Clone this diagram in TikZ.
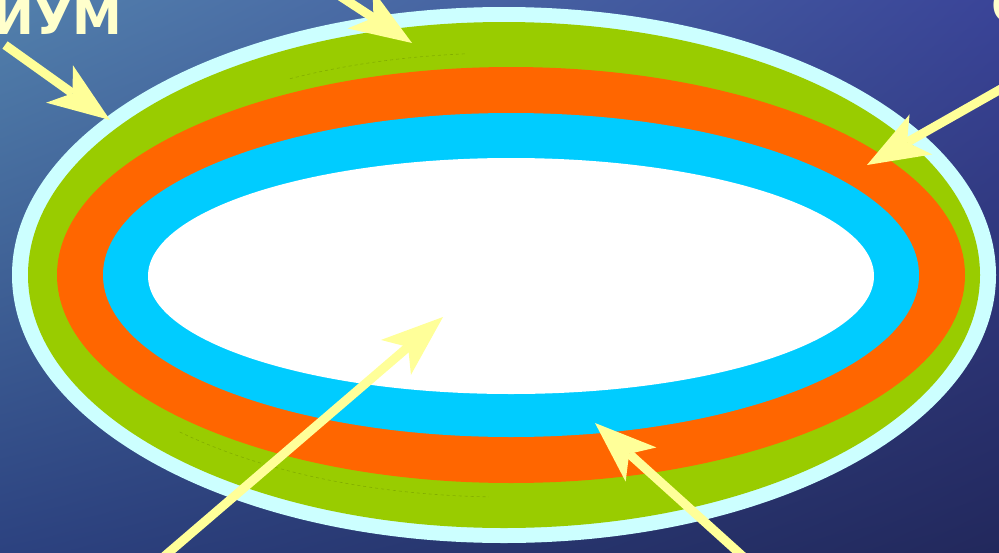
\documentclass[tikz,border=0pt]{standalone}
\usepackage{fontspec}
\newfontfamily\wordfont{DejaVu Sans}
\usetikzlibrary{arrows.meta,shadings}

\definecolor{seaupleft}{RGB}{82,128,172}
\definecolor{seaupright}{RGB}{58,68,152}
\definecolor{sealowleft}{RGB}{44,66,128}
\definecolor{sealowright}{RGB}{34,40,92}
\definecolor{rimcyan}{RGB}{204,255,255}
\definecolor{layergreen}{RGB}{153,204,0}
\definecolor{layerorange}{RGB}{255,102,0}
\definecolor{layercyan}{RGB}{0,204,255}
\definecolor{pointeryellow}{RGB}{255,255,153}
\definecolor{wordcream}{RGB}{255,255,204}

\tikzset{
  pointer/.style={draw=pointeryellow, line width=9pt,
    -{Stealth[length=62pt, width=46pt, inset=16pt, line width=0pt]}},
  wordlabel/.style={text=wordcream, inner sep=0pt,
    font=\wordfont\bfseries\fontsize{50}{50}\selectfont},
  seam/.style={draw=layergreen!70!black, line width=0.6pt, dashed, opacity=0.5}
}

\begin{document}
\begin{tikzpicture}[x=1pt, y=-1pt]
    % -----------------------------------------------------
    % 1) Fondo: agua azul, mas clara arriba a la izquierda
    % -----------------------------------------------------
    \useasboundingbox (0,0) rectangle (999,552);
    \clip (0,0) rectangle (999,552);
    \shade[upper left=seaupleft, upper right=seaupright,
           lower left=sealowleft, lower right=sealowright]
        (0,0) rectangle (999,552);

    % -----------------------------------------------------
    % 2) Capas: elipses de fuera hacia dentro
    % -----------------------------------------------------
    \fill[rimcyan]     (504,275) ellipse [x radius=492pt, y radius=268pt];
    \fill[layergreen]  (504,275) ellipse [x radius=476pt, y radius=253pt];
    \fill[layerorange] (511,275) ellipse [x radius=454pt, y radius=208pt];
    \fill[layercyan]   (511,275) ellipse [x radius=408pt, y radius=162pt];
    \fill[white]       (511,276) ellipse [x radius=363pt, y radius=118pt];

    % costura tenue dentro de la capa verde
    \draw[seam] (505,275) ++(95:460pt and 222pt)
        arc[start angle=95, end angle=118, x radius=460pt, y radius=222pt];
    \draw[seam] (505,275) ++(225:460pt and 222pt)
        arc[start angle=225, end angle=268, x radius=460pt, y radius=222pt];

    % -----------------------------------------------------
    % 3) Textos cortados en el borde
    % -----------------------------------------------------
    \node[wordlabel, anchor=base west] (endword) at (-8,34) {ИУМ};
    \node[wordlabel, anchor=base west] (nextword) at (991,23) {С};

    % -----------------------------------------------------
    % 4) Flechas hacia cada capa
    % -----------------------------------------------------
    \coordinate (rimtail) at (5,45);
    \coordinate (rimtip) at (110,120);
    \coordinate (greentail) at (300,-30);
    \coordinate (greentip) at (412,43);
    \coordinate (orangetail) at (1015,81);
    \coordinate (orangetip) at (867,165);
    \coordinate (coretail) at (160,560);
    \coordinate (coretip) at (443,317);
    \coordinate (cyantail) at (748,561);
    \coordinate (cyantip) at (595,423);

    \draw[pointer] (rimtail) -- (rimtip);
    \draw[pointer] (greentail) -- (greentip);
    \draw[pointer] (orangetail) -- (orangetip);
    \draw[pointer] (coretail) -- (coretip);
    \draw[pointer] (cyantail) -- (cyantip);

\end{tikzpicture}
\end{document}
